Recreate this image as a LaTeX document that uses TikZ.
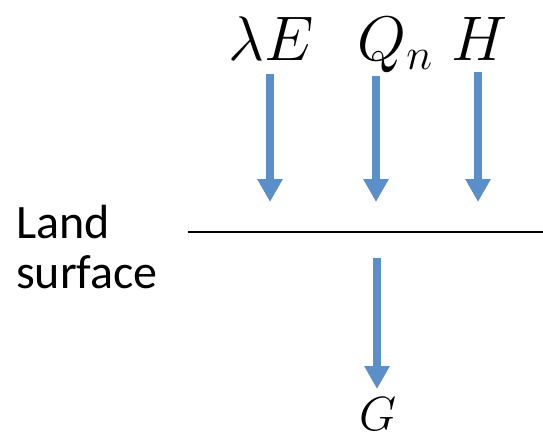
\RequirePackage{fix-cm}
\documentclass[tikz,border=0pt]{standalone}
\usepackage{fontspec}
\usepackage{tikz}
\usepackage{xcolor}
\usetikzlibrary{arrows.meta}
\newfontfamily\labelfont{Carlito}
\definecolor{fluxblue}{RGB}{91,143,201}

\begin{document}
\begin{tikzpicture}[
  x=1pt, y=-1pt,
  flux/.style={-{Triangle[width=24pt,length=23pt]}, line width=8pt, draw=fluxblue},
  sym/.style={font=\fontsize{63}{63}\selectfont, inner sep=0pt, anchor=base},
  ground/.style={line width=1.5pt}
]
\useasboundingbox (0,0) rectangle (543,442);

% fluxes above the surface
\node[sym] (le) at (271,60) {$\lambda E$};
\node[sym] (qn) at (395,60) {$Q_n$};
\node[sym] (h) at (479,60) {$H$};

\coordinate (le top) at (270,74);
\coordinate (le tip) at (270,202);
\coordinate (qn top) at (376,76);
\coordinate (qn tip) at (376,202);
\coordinate (h top) at (478,72);
\coordinate (h tip) at (478,202);

\draw[flux] (le top) -- (le tip);
\draw[flux] (qn top) -- (qn tip);
\draw[flux] (h top) -- (h tip);

% land surface
\node[font=\labelfont\fontsize{48}{50}\selectfont, align=left, inner sep=0pt, anchor=north west] (land) at (16,205) {Land\\surface};
\coordinate (surf w) at (188,232);
\coordinate (surf e) at (543,232);
\draw[ground] (surf w) -- (surf e);

% ground heat flux
\node[sym, font=\fontsize{48}{48}\selectfont] (g) at (378,430) {$G$};
\coordinate (g top) at (377,258);
\coordinate (g tip) at (377,389);
\draw[flux] (g top) -- (g tip);
\end{tikzpicture}
\end{document}
